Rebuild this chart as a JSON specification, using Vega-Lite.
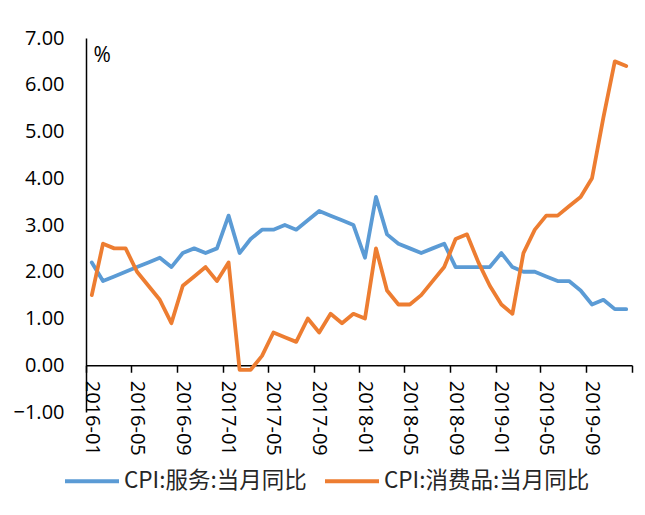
{
  "$schema": "https://vega.github.io/schema/vega-lite/v6.json",
  "width": 546,
  "height": 374,
  "autosize": {"type": "none"},
  "padding": {"left": 86, "top": 38, "right": 13, "bottom": 103},
  "background": "white",
  "config": {"view": {"stroke": null}},
  "data": {
    "values": [
      {"month": "2016-01", "series": "CPI:服务:当月同比", "value": 2.2},
      {"month": "2016-02", "series": "CPI:服务:当月同比", "value": 1.8},
      {"month": "2016-03", "series": "CPI:服务:当月同比", "value": 1.9},
      {"month": "2016-04", "series": "CPI:服务:当月同比", "value": 2.0},
      {"month": "2016-05", "series": "CPI:服务:当月同比", "value": 2.1},
      {"month": "2016-06", "series": "CPI:服务:当月同比", "value": 2.2},
      {"month": "2016-07", "series": "CPI:服务:当月同比", "value": 2.3},
      {"month": "2016-08", "series": "CPI:服务:当月同比", "value": 2.1},
      {"month": "2016-09", "series": "CPI:服务:当月同比", "value": 2.4},
      {"month": "2016-10", "series": "CPI:服务:当月同比", "value": 2.5},
      {"month": "2016-11", "series": "CPI:服务:当月同比", "value": 2.4},
      {"month": "2016-12", "series": "CPI:服务:当月同比", "value": 2.5},
      {"month": "2017-01", "series": "CPI:服务:当月同比", "value": 3.2},
      {"month": "2017-02", "series": "CPI:服务:当月同比", "value": 2.4},
      {"month": "2017-03", "series": "CPI:服务:当月同比", "value": 2.7},
      {"month": "2017-04", "series": "CPI:服务:当月同比", "value": 2.9},
      {"month": "2017-05", "series": "CPI:服务:当月同比", "value": 2.9},
      {"month": "2017-06", "series": "CPI:服务:当月同比", "value": 3.0},
      {"month": "2017-07", "series": "CPI:服务:当月同比", "value": 2.9},
      {"month": "2017-08", "series": "CPI:服务:当月同比", "value": 3.1},
      {"month": "2017-09", "series": "CPI:服务:当月同比", "value": 3.3},
      {"month": "2017-10", "series": "CPI:服务:当月同比", "value": 3.2},
      {"month": "2017-11", "series": "CPI:服务:当月同比", "value": 3.1},
      {"month": "2017-12", "series": "CPI:服务:当月同比", "value": 3.0},
      {"month": "2018-01", "series": "CPI:服务:当月同比", "value": 2.3},
      {"month": "2018-02", "series": "CPI:服务:当月同比", "value": 3.6},
      {"month": "2018-03", "series": "CPI:服务:当月同比", "value": 2.8},
      {"month": "2018-04", "series": "CPI:服务:当月同比", "value": 2.6},
      {"month": "2018-05", "series": "CPI:服务:当月同比", "value": 2.5},
      {"month": "2018-06", "series": "CPI:服务:当月同比", "value": 2.4},
      {"month": "2018-07", "series": "CPI:服务:当月同比", "value": 2.5},
      {"month": "2018-08", "series": "CPI:服务:当月同比", "value": 2.6},
      {"month": "2018-09", "series": "CPI:服务:当月同比", "value": 2.1},
      {"month": "2018-10", "series": "CPI:服务:当月同比", "value": 2.1},
      {"month": "2018-11", "series": "CPI:服务:当月同比", "value": 2.1},
      {"month": "2018-12", "series": "CPI:服务:当月同比", "value": 2.1},
      {"month": "2019-01", "series": "CPI:服务:当月同比", "value": 2.4},
      {"month": "2019-02", "series": "CPI:服务:当月同比", "value": 2.1},
      {"month": "2019-03", "series": "CPI:服务:当月同比", "value": 2.0},
      {"month": "2019-04", "series": "CPI:服务:当月同比", "value": 2.0},
      {"month": "2019-05", "series": "CPI:服务:当月同比", "value": 1.9},
      {"month": "2019-06", "series": "CPI:服务:当月同比", "value": 1.8},
      {"month": "2019-07", "series": "CPI:服务:当月同比", "value": 1.8},
      {"month": "2019-08", "series": "CPI:服务:当月同比", "value": 1.6},
      {"month": "2019-09", "series": "CPI:服务:当月同比", "value": 1.3},
      {"month": "2019-10", "series": "CPI:服务:当月同比", "value": 1.4},
      {"month": "2019-11", "series": "CPI:服务:当月同比", "value": 1.2},
      {"month": "2019-12", "series": "CPI:服务:当月同比", "value": 1.2},
      {"month": "2016-01", "series": "CPI:消费品:当月同比", "value": 1.5},
      {"month": "2016-02", "series": "CPI:消费品:当月同比", "value": 2.6},
      {"month": "2016-03", "series": "CPI:消费品:当月同比", "value": 2.5},
      {"month": "2016-04", "series": "CPI:消费品:当月同比", "value": 2.5},
      {"month": "2016-05", "series": "CPI:消费品:当月同比", "value": 2.0},
      {"month": "2016-06", "series": "CPI:消费品:当月同比", "value": 1.7},
      {"month": "2016-07", "series": "CPI:消费品:当月同比", "value": 1.4},
      {"month": "2016-08", "series": "CPI:消费品:当月同比", "value": 0.9},
      {"month": "2016-09", "series": "CPI:消费品:当月同比", "value": 1.7},
      {"month": "2016-10", "series": "CPI:消费品:当月同比", "value": 1.9},
      {"month": "2016-11", "series": "CPI:消费品:当月同比", "value": 2.1},
      {"month": "2016-12", "series": "CPI:消费品:当月同比", "value": 1.8},
      {"month": "2017-01", "series": "CPI:消费品:当月同比", "value": 2.2},
      {"month": "2017-02", "series": "CPI:消费品:当月同比", "value": -0.1},
      {"month": "2017-03", "series": "CPI:消费品:当月同比", "value": -0.1},
      {"month": "2017-04", "series": "CPI:消费品:当月同比", "value": 0.2},
      {"month": "2017-05", "series": "CPI:消费品:当月同比", "value": 0.7},
      {"month": "2017-06", "series": "CPI:消费品:当月同比", "value": 0.6},
      {"month": "2017-07", "series": "CPI:消费品:当月同比", "value": 0.5},
      {"month": "2017-08", "series": "CPI:消费品:当月同比", "value": 1.0},
      {"month": "2017-09", "series": "CPI:消费品:当月同比", "value": 0.7},
      {"month": "2017-10", "series": "CPI:消费品:当月同比", "value": 1.1},
      {"month": "2017-11", "series": "CPI:消费品:当月同比", "value": 0.9},
      {"month": "2017-12", "series": "CPI:消费品:当月同比", "value": 1.1},
      {"month": "2018-01", "series": "CPI:消费品:当月同比", "value": 1.0},
      {"month": "2018-02", "series": "CPI:消费品:当月同比", "value": 2.5},
      {"month": "2018-03", "series": "CPI:消费品:当月同比", "value": 1.6},
      {"month": "2018-04", "series": "CPI:消费品:当月同比", "value": 1.3},
      {"month": "2018-05", "series": "CPI:消费品:当月同比", "value": 1.3},
      {"month": "2018-06", "series": "CPI:消费品:当月同比", "value": 1.5},
      {"month": "2018-07", "series": "CPI:消费品:当月同比", "value": 1.8},
      {"month": "2018-08", "series": "CPI:消费品:当月同比", "value": 2.1},
      {"month": "2018-09", "series": "CPI:消费品:当月同比", "value": 2.7},
      {"month": "2018-10", "series": "CPI:消费品:当月同比", "value": 2.8},
      {"month": "2018-11", "series": "CPI:消费品:当月同比", "value": 2.2},
      {"month": "2018-12", "series": "CPI:消费品:当月同比", "value": 1.7},
      {"month": "2019-01", "series": "CPI:消费品:当月同比", "value": 1.3},
      {"month": "2019-02", "series": "CPI:消费品:当月同比", "value": 1.1},
      {"month": "2019-03", "series": "CPI:消费品:当月同比", "value": 2.4},
      {"month": "2019-04", "series": "CPI:消费品:当月同比", "value": 2.9},
      {"month": "2019-05", "series": "CPI:消费品:当月同比", "value": 3.2},
      {"month": "2019-06", "series": "CPI:消费品:当月同比", "value": 3.2},
      {"month": "2019-07", "series": "CPI:消费品:当月同比", "value": 3.4},
      {"month": "2019-08", "series": "CPI:消费品:当月同比", "value": 3.6},
      {"month": "2019-09", "series": "CPI:消费品:当月同比", "value": 4.0},
      {"month": "2019-10", "series": "CPI:消费品:当月同比", "value": 5.3},
      {"month": "2019-11", "series": "CPI:消费品:当月同比", "value": 6.5},
      {"month": "2019-12", "series": "CPI:消费品:当月同比", "value": 6.4}
    ]
  },
  "mark": {"type": "line", "strokeWidth": 3.8, "strokeJoin": "round", "strokeCap": "round"},
  "encoding": {
    "x": {
      "field": "month",
      "type": "temporal",
      "timeUnit": "utcyearmonth",
      "bandPosition": 0.5,
      "scale": {
        "domain": [
          {"year": 2016, "month": 1, "date": 1, "utc": true},
          {"year": 2020, "month": 1, "date": 1, "utc": true}
        ],
        "nice": false
      },
      "axis": {
        "title": null,
        "values": [
          {"year": 2016, "month": 1, "date": 1, "utc": true},
          {"year": 2016, "month": 5, "date": 1, "utc": true},
          {"year": 2016, "month": 9, "date": 1, "utc": true},
          {"year": 2017, "month": 1, "date": 1, "utc": true},
          {"year": 2017, "month": 5, "date": 1, "utc": true},
          {"year": 2017, "month": 9, "date": 1, "utc": true},
          {"year": 2018, "month": 1, "date": 1, "utc": true},
          {"year": 2018, "month": 5, "date": 1, "utc": true},
          {"year": 2018, "month": 9, "date": 1, "utc": true},
          {"year": 2019, "month": 1, "date": 1, "utc": true},
          {"year": 2019, "month": 5, "date": 1, "utc": true},
          {"year": 2019, "month": 9, "date": 1, "utc": true},
          {"year": 2020, "month": 1, "date": 1, "utc": true}
        ],
        "labelExpr": "datum.value >= utc(2019, 11, 15) ? '' : utcFormat(datum.value, '%Y-%m')",
        "offset": -46.75,
        "labelAngle": 90,
        "labelOffset": 5,
        "labelPadding": 8,
        "labelFont": "Open Sans",
        "labelFontSize": 20,
        "labelColor": "#000000",
        "labelOverlap": false,
        "labelFlush": false,
        "grid": false,
        "domainColor": "#000000",
        "domainWidth": 1.5,
        "tickColor": "#000000",
        "tickWidth": 1.5,
        "tickSize": 7
      }
    },
    "y": {
      "field": "value",
      "type": "quantitative",
      "scale": {"domain": [-1, 7], "nice": false, "zero": false},
      "axis": {
        "title": "%",
        "titleAngle": 0,
        "titleAlign": "left",
        "titleBaseline": "top",
        "titleX": 7,
        "titleY": 6,
        "titleFont": "Open Sans",
        "titleFontSize": 21,
        "titleFontWeight": "normal",
        "titleColor": "#000000",
        "values": [-1, 0, 1, 2, 3, 4, 5, 6, 7],
        "format": ".2f",
        "labelFont": "Open Sans",
        "labelFontSize": 20,
        "labelColor": "#000000",
        "labelPadding": 22,
        "tickSize": 0,
        "ticks": false,
        "grid": false,
        "domainColor": "#000000",
        "domainWidth": 1.5
      }
    },
    "color": {
      "field": "series",
      "type": "nominal",
      "scale": {
        "domain": ["CPI:服务:当月同比", "CPI:消费品:当月同比"],
        "range": ["#5B9BD5", "#ED7D31"]
      },
      "legend": {
        "title": null,
        "orient": "none",
        "direction": "horizontal",
        "legendX": -23,
        "legendY": 414,
        "symbolType": "stroke",
        "symbolSize": 2916,
        "symbolStrokeWidth": 4,
        "labelFont": "Noto Sans CJK SC",
        "labelFontSize": 22.5,
        "labelColor": "#262626",
        "labelOffset": 3,
        "columnPadding": 10,
        "labelLimit": 400
      }
    }
  }
}
